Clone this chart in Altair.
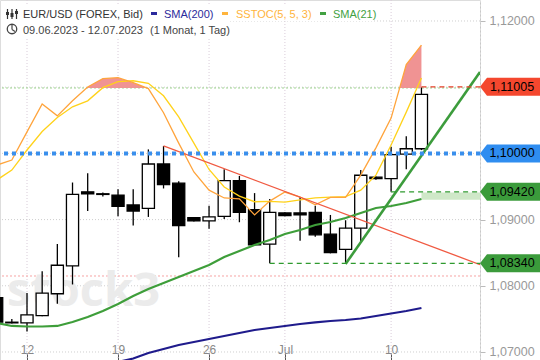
import altair as alt
import pandas as pd

# ---------------- data ----------------
dates = ["2023-06-09", "2023-06-11", "2023-06-12", "2023-06-13", "2023-06-14", "2023-06-15",
         "2023-06-16", "2023-06-18", "2023-06-19", "2023-06-20", "2023-06-21", "2023-06-22",
         "2023-06-23", "2023-06-25", "2023-06-26", "2023-06-27", "2023-06-28", "2023-06-29",
         "2023-06-30", "2023-07-02", "2023-07-03", "2023-07-04", "2023-07-05", "2023-07-06",
         "2023-07-07", "2023-07-09", "2023-07-10", "2023-07-11", "2023-07-12"]
opens = [1.0782, 1.0745, 1.0744, 1.0755, 1.0788, 1.0830, 1.0942, 1.0939, 1.0937, 1.0922,
         1.0917, 1.0984, 1.0955, 1.0903, 1.0898, 1.0905, 1.0959, 1.0915, 1.0863, 1.0910,
         1.0910, 1.0911, 1.0878, 1.0855, 1.0887, 1.0964, 1.0962, 1.0999, 1.1007]
highs = [1.0784, 1.0750, 1.0789, 1.0822, 1.0863, 1.0956, 1.0970, 1.0941, 1.0946, 1.0946,
         1.1006, 1.1011, 1.0958, 1.0904, 1.0921, 1.0976, 1.0966, 1.0940, 1.0931, 1.0911,
         1.0934, 1.0921, 1.0907, 1.0899, 1.0975, 1.0965, 1.1010, 1.1026, 1.1100]
lows = [1.0745, 1.0743, 1.0731, 1.0754, 1.0773, 1.0802, 1.0913, 1.0935, 1.0905, 1.0891,
        1.0904, 1.0947, 1.0843, 1.0897, 1.0886, 1.0901, 1.0896, 1.0861, 1.0834, 1.0905,
        1.0868, 1.0874, 1.0849, 1.0834, 1.0867, 1.0960, 1.0942, 1.0976, 1.1005]
closes = [1.0745, 1.0744, 1.0756, 1.0789, 1.0831, 1.0938, 1.0939, 1.0938, 1.0920, 1.0913,
          1.0984, 1.0953, 1.0891, 1.0898, 1.0904, 1.0959, 1.0911, 1.0862, 1.0911, 1.0906,
          1.0907, 1.0877, 1.0850, 1.0887, 1.0967, 1.0962, 1.0998, 1.1007, 1.1089]
sma21 = [1.07438, 1.07393, 1.07385, 1.07385, 1.07393, 1.07453, 1.07529, 1.07619, 1.07725,
         1.07846, 1.07952, 1.08042, 1.08133, 1.08224, 1.08314, 1.08435, 1.08526, 1.08616,
         1.08692, 1.08782, 1.08843, 1.08918, 1.08964, 1.09024, 1.09100, 1.09175, 1.09205,
         1.09251, 1.09311]
sma200_from = "2023-06-18"
sma200 = [1.06804, 1.06849, 1.06902, 1.06985, 1.07045, 1.07106, 1.07151, 1.07196, 1.07242,
          1.07287, 1.07332, 1.07362, 1.07393, 1.07423, 1.07446, 1.07468, 1.07483, 1.07506,
          1.07544, 1.07581, 1.07619, 1.07665]
stoch_k = [55.4, 57.0, 66.0, 74.9, 71.1, 75.9, 80.3, 83.0, 83.3, 81.7, 79.8, 72.1, 62.4, 53.2,
           47.4, 44.9, 44.6, 39.5, 43.9, 46.8, 45.2, 42.7, 45.1, 45.1, 52.2, 60.9, 70.4, 87.5, 93.7]
stoch_d = [50.6, 53.8, 60.2, 66.1, 70.6, 74.0, 75.9, 80.1, 82.0, 82.3, 81.5, 77.5, 70.8, 62.4,
           54.0, 48.4, 45.5, 43.7, 43.8, 43.6, 44.3, 44.9, 45.2, 45.3, 47.4, 52.2, 61.8, 72.3, 83.2]
tick_dates = ["2023-06-12", "2023-06-19", "2023-06-26", "2023-07-02", "2023-07-10"]
tick_labels = ["12", "19", "26", "Jul", "10"]
y_ticks = [1.07, 1.08, 1.09, 1.12]
grid_prices = [1.07, 1.08, 1.09, 1.10, 1.11, 1.12]
tag_values = [1.11005, 1.10000, 1.09420, 1.08340]
tag_colors = ["#f4472e", "#2f8df0", "#3b9b3b", "#3b9b3b"]
support_dates = ["2023-07-12", "2023-07-10", "2023-06-30"]
support_values = [1.11005, 1.09420, 1.08340]
support_colors = ["#e8402a", "#2f9a2f", "#2f9a2f"]
red_trend_prices = [1.10112, 1.08320]
red_trend_from = "2023-06-22"
green_trend_prices = [1.08330, 1.11230]
green_trend_from = "2023-07-06"
sma21_band = [1.09300, 1.09410]

# ---------------- derived ----------------
idx = {d: i for i, d in enumerate(dates)}
X_DOM = [0.22, 31.86]
Y_DOM = [1.06879, 1.12317]
ST_LO, ST_HI = 1.08148, 1.10988   # price positions of stochastic 20 / 80 levels

def st2p(s):
    return ST_LO + (s - 20) / 60 * (ST_HI - ST_LO)

candles = pd.DataFrame({"i": range(len(dates)), "open": opens, "high": highs,
                        "low": lows, "close": closes})
candles["x1"] = candles["i"] - 0.4
candles["x2"] = candles["i"] + 0.4
sma21_df = pd.DataFrame({"i": range(len(dates)), "v": sma21})
s0 = idx[sma200_from]
sma200_df = pd.DataFrame({"i": range(s0, s0 + len(sma200)), "v": sma200})
stoch_df = pd.DataFrame({"i": range(len(dates)),
                         "k": [st2p(v) for v in stoch_k],
                         "d": [st2p(v) for v in stoch_d]})

# area where %K is above 80
pts = []
seg = 0
for j, v in enumerate(stoch_k):
    if j > 0:
        a = stoch_k[j - 1]
        if (a > 80) != (v > 80):
            t = (80 - a) / (v - a)
            if v > 80:
                seg += 1
            pts.append((j - 1 + t, 80.0, seg))
    if v > 80:
        pts.append((j, v, seg))
fill_df = pd.DataFrame(pts, columns=["i", "s", "seg"])
fill_df["p"] = fill_df["s"].map(st2p)
fill_df["b"] = ST_HI

tick_idx = [idx[d] for d in tick_dates]
label_expr = " : ".join(f"datum.value == {i} ? '{l}'" for i, l in zip(tick_idx, tick_labels)) + " : ''"

FONT = "Liberation Sans"

x_axis = alt.Axis(orient="bottom", values=tick_idx, labelExpr=label_expr, grid=False, domain=False,
                  ticks=True, tickSize=7, tickColor="#555", offset=-7, labelPadding=-7,
                  labelBaseline="alphabetic", labelColor="#888", labelFontSize=12, labelFont=FONT,
                  title=None)
y_axis = alt.Axis(orient="right", values=y_ticks,
                  labelExpr="replace(format(datum.value, '.5f'), '.', ',')", grid=False,
                  domain=True, domainColor="#c8c8c8", domainDash=[2, 2], tickColor="#bbb",
                  tickSize=5, labelPadding=4, labelColor="#999", labelFontSize=12.5, labelFont=FONT,
                  title=None)

def X(field):
    return alt.X(field, type="quantitative", scale=alt.Scale(domain=X_DOM, nice=False, zero=False),
                 axis=x_axis, title=None)

def Y(field):
    return alt.Y(field, type="quantitative", scale=alt.Scale(domain=Y_DOM, nice=False, zero=False),
                 axis=y_axis, title=None)

# ---------------- layers ----------------
vgrid = alt.Chart(pd.DataFrame({"i": tick_idx})).mark_rule(
    color="#d9ccd9", strokeDash=[1, 2], strokeWidth=1).encode(x=X("i"))
hgrid = alt.Chart(pd.DataFrame({"v": grid_prices})).mark_rule(
    color="#cfcfcf", strokeDash=[1, 2], strokeWidth=1).encode(y=Y("v"))
lvl80 = alt.Chart(pd.DataFrame({"v": [ST_HI]})).mark_rule(
    color="#9ed38f", strokeDash=[2, 2], strokeWidth=1).encode(y=Y("v"))
lvl20 = alt.Chart(pd.DataFrame({"v": [ST_LO]})).mark_rule(
    color="#f7a3a3", strokeDash=[2, 2], strokeWidth=1).encode(y=Y("v"))

watermark = alt.Chart(pd.DataFrame({"t": ["stock3"]})).mark_text(
    font="Open Sans", fontSize=47, fontWeight="bold", color="#ebebeb", align="left",
    baseline="alphabetic"
).encode(text="t:N", x=alt.value(7), y=alt.value(306))

wicks = alt.Chart(candles).mark_rule(color="black", strokeWidth=1.3).encode(
    x=X("i"), y=Y("low"), y2="high")
bodies = alt.Chart(candles).mark_rect(stroke="black", strokeWidth=1.3).encode(
    x=X("x1"), x2="x2", y=Y("open"), y2="close",
    fill=alt.condition("datum.close >= datum.open", alt.value("white"), alt.value("black")))

fill = alt.Chart(fill_df).mark_area(color="#ef8d8d", opacity=0.95, clip=True).encode(
    x=X("i"), y=Y("p"), y2="b", detail="seg:N")
line_d = alt.Chart(stoch_df).mark_line(color="#ffd21a", strokeWidth=1.3, clip=True).encode(
    x=X("i"), y=Y("d"))
line_k = alt.Chart(stoch_df).mark_line(color="#ffa43c", strokeWidth=1.3, clip=True).encode(
    x=X("i"), y=Y("k"))
band = alt.Chart(pd.DataFrame({"i": [len(dates) - 1], "a": [sma21_band[0]], "b": [sma21_band[1]]})
                 ).mark_rect(color="#cfe8c8").encode(x=X("i"), x2=alt.value(480), y=Y("a"), y2="b")
l200 = alt.Chart(sma200_df).mark_line(color="#1f1b8c", strokeWidth=2.2, clip=True).encode(
    x=X("i"), y=Y("v"))
l21 = alt.Chart(sma21_df).mark_line(color="#3e9e3a", strokeWidth=2.2, clip=True).encode(
    x=X("i"), y=Y("v"))

red_df = pd.DataFrame({"i": [idx[red_trend_from], X_DOM[1]], "v": red_trend_prices})
green_df = pd.DataFrame({"i": [idx[green_trend_from], X_DOM[1]], "v": green_trend_prices})
red_tr = alt.Chart(red_df).mark_line(color="#f05a42", strokeWidth=1.3, clip=True).encode(
    x=X("i"), y=Y("v"))
green_tr = alt.Chart(green_df).mark_line(color="#3c9c3c", strokeWidth=2.6, clip=True).encode(
    x=X("i"), y=Y("v"))

sup_df = pd.DataFrame({"i": [idx[d] for d in support_dates], "v": support_values,
                       "c": support_colors})
sup = alt.Chart(sup_df).mark_rule(strokeDash=[5, 4], strokeWidth=1.2).encode(
    x=X("i"), x2=alt.value(480), y=Y("v"), color=alt.Color("c:N", scale=None))

blue = alt.Chart(pd.DataFrame({"v": [1.10]})).mark_rule(
    color="#3a8fec", strokeDash=[4, 4], strokeWidth=4).encode(y=Y("v"))

tag_df = pd.DataFrame({"v": tag_values, "c": tag_colors})
tag_df["label"] = tag_df["v"].map(lambda v: f"{v:.5f}".replace(".", ","))
tag_shape = "M -1 0 L -0.767 -0.3 L 1 -0.3 L 1 0.3 L -0.767 0.3 Z"
tags = alt.Chart(tag_df).mark_point(shape=tag_shape, size=3600, filled=True, opacity=1,
                                    strokeWidth=0).encode(
    x=alt.value(510), y=Y("v"), color=alt.Color("c:N", scale=None))
tag_text = alt.Chart(tag_df).mark_text(font=FONT, fontSize=12.5, color="black", align="center",
                                       baseline="middle").encode(
    x=alt.value(512), y=Y("v"), text="label:N")

# ---------------- header / legend ----------------
def txt(t, x, y, color="#333", size=11):
    return alt.Chart(pd.DataFrame({"t": [t]})).mark_text(
        font=FONT, fontSize=size, color=color, align="left", baseline="alphabetic"
    ).encode(text="t:N", x=alt.value(x), y=alt.value(y))

def dash(x, y, color):
    return alt.Chart(pd.DataFrame({"t": [0]})).mark_rule(color=color, strokeWidth=3).encode(
        x=alt.value(x), x2=alt.value(x + 6), y=alt.value(y))

def box(x, x2, y, y2):
    return alt.Chart(pd.DataFrame({"t": [0]})).mark_rect(color="white").encode(
        x=alt.value(x), x2=alt.value(x2), y=alt.value(y), y2=alt.value(y2))

def vline(x, y, y2, w=1.2, color="#333"):
    return alt.Chart(pd.DataFrame({"t": [0]})).mark_rule(color=color, strokeWidth=w).encode(
        x=alt.value(x), y=alt.value(y), y2=alt.value(y2))

legend = [
    box(2, 374, 4, 21), box(2, 230, 21, 37),
    # candle icon
    vline(7.5, 9, 19), vline(12, 9, 19), vline(16.5, 9, 19),
    vline(7.5, 12, 15, 3), vline(12, 13, 17, 3), vline(16.5, 11, 14, 3),
    txt("EUR/USD (FOREX, Bid)", 23, 17.5),
    dash(151, 13.5, "#2b2a9c"), txt("SMA(200)", 164, 17.5, "#2b2a9c"),
    dash(222, 13.5, "#ffb43c"), txt("SSTOC(5, 5, 3)", 236, 17.5, "#ffb43c"),
    dash(320, 13.5, "#42a142"), txt("SMA(21)", 333, 17.5, "#42a142"),
    txt("09.06.2023 - 12.07.2023", 23, 33.5, "#444"),
    txt("(1 Monat, 1 Tag)", 150, 33.5, "#444"),
]
clock = alt.Chart(pd.DataFrame({"t": [0]})).mark_point(
    shape="circle", size=90, stroke="#444", strokeWidth=1.3, filled=False, opacity=1).encode(
    x=alt.value(12), y=alt.value(29))
hand1 = vline(12, 25, 29.5, 1.2, "#444")
hand2 = alt.Chart(pd.DataFrame({"t": [0]})).mark_rule(color="#444", strokeWidth=1.2).encode(
    x=alt.value(12), x2=alt.value(15), y=alt.value(29.5), y2=alt.value(31.5))

chart = alt.layer(
    vgrid, hgrid, lvl80, lvl20, watermark, band,
    wicks, bodies, fill, line_d, line_k, l200, l21, red_tr, green_tr, sup, blue,
    tags, tag_text, *legend, clock, hand1, hand2
).properties(
    width=480, height=360, autosize="none",
    padding={"left": 0, "top": 0, "right": 60, "bottom": 0}
).configure_view(stroke=None).configure(background="white")

chart.save("out.html", embed_options={"renderer": "svg", "actions": False})
